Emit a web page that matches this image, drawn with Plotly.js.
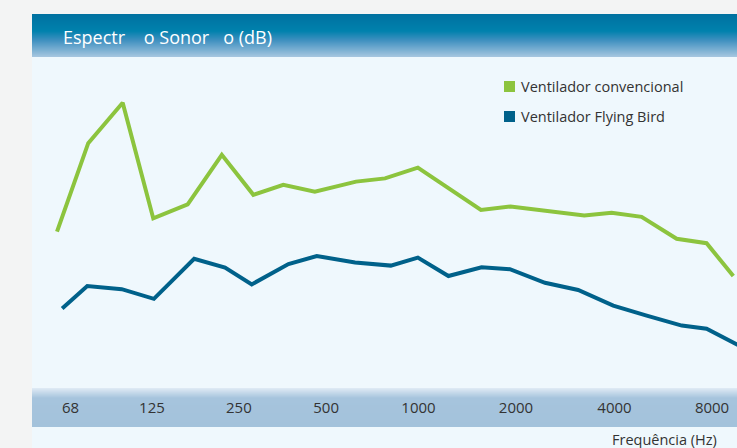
<!DOCTYPE html>
<html>
<head>
<meta charset="utf-8">
<script src="https://cdn.plot.ly/plotly-3.0.1.min.js"></script>
<style>
html,body{margin:0;padding:0;background:#f3f4f4;}
#chart{width:737px;height:448px;}
</style>
</head>
<body>
<div id="chart"></div>
<script>
// ---- data (x = position along the 1/3-octave band scale, y = sound level in dB) ----
var seriesNames = ["Ventilador convencional", "Ventilador Flying Bird"];
var convX = [0, 0.97, 2.04, 2.99, 4.06, 5.12, 6.10, 7.03, 8.01, 9.29, 10.19, 11.21, 13.17, 14.09, 16.38, 17.23, 18.16, 19.25, 20.18, 21.01];
var convY = [47.1, 69.2, 79.3, 50.4, 53.9, 66.3, 56.3, 58.8, 57.1, 59.6, 60.4, 63.1, 52.5, 53.4, 51.1, 51.8, 50.8, 45.3, 44.2, 36.0];
var birdX = [0.16, 0.94, 2.01, 3.01, 4.26, 5.22, 6.05, 7.19, 8.07, 9.26, 10.37, 11.21, 12.16, 13.19, 14.07, 15.16, 16.19, 17.28, 18.32, 19.41, 20.18, 21.22];
var birdY = [27.9, 33.5, 32.7, 30.3, 40.3, 38.1, 33.9, 39.0, 41.0, 39.4, 38.6, 40.6, 36.0, 38.2, 37.7, 34.3, 32.5, 28.6, 26.1, 23.6, 22.8, 18.5];
var tickLabels = ["68", "125", "250", "500", "1000", "2000", "4000", "8000"];
var tickPos = [0.42, 2.95, 5.65, 8.36, 11.23, 14.26, 17.32, 20.35];
var titleText = "Espectr\u00a0\u00a0\u00a0\u00a0o Sonor\u00a0\u00a0\u00a0o (dB)";
var xTitleText = "Frequência (Hz)";

// ---- styles ----
var green = "#8cc43e";
var blue = "#00618a";
var font = "'Open Sans', 'Noto Sans', sans-serif";

// plot area in pixels: x 32..737, y 57..388
function xp(px){ return (px - 32) / 705; }
function yp(py){ return (388 - py) / 331; }
function hex(c){ return [parseInt(c.substr(1,2),16), parseInt(c.substr(3,2),16), parseInt(c.substr(5,2),16)]; }
function mix(a, b, t){
  var A = hex(a), B = hex(b);
  return "rgb(" + A.map(function(v,i){ return Math.round(v + (B[i]-v)*t); }).join(",") + ")";
}
function gradColor(stops, py){
  for (var i = 0; i < stops.length - 1; i++){
    if (py >= stops[i][0] && py <= stops[i+1][0]){
      var t = (py - stops[i][0]) / (stops[i+1][0] - stops[i][0]);
      return mix(stops[i][1], stops[i+1][1], t);
    }
  }
  return stops[stops.length-1][1];
}

var shapes = [];
// panel background
shapes.push({type:"rect", xref:"paper", yref:"paper", x0:xp(32), x1:xp(737), y0:yp(448), y1:yp(14),
  fillcolor:"#eff8fd", line:{width:0}, layer:"below"});
// header gradient
var headStops = [[14,"#0070a0"],[31,"#0081ad"],[40,"#3d8fbf"],[57,"#a7c7e0"]];
for (var py = 14; py < 57; py++){
  shapes.push({type:"rect", xref:"paper", yref:"paper", x0:xp(32), x1:xp(737), y0:yp(py+1), y1:yp(py),
    fillcolor:gradColor(headStops, py+0.5), line:{width:0}, layer:"below"});
}
// axis band gradient
var bandStops = [[388,"#e0ebf5"],[398,"#a6c4dd"],[427,"#a3c2db"]];
for (var py2 = 388; py2 < 427; py2++){
  shapes.push({type:"rect", xref:"paper", yref:"paper", x0:xp(32), x1:xp(737), y0:yp(py2+1), y1:yp(py2),
    fillcolor:gradColor(bandStops, py2+0.5), line:{width:0}, layer:"below"});
}
// legend squares
shapes.push({type:"rect", xref:"paper", yref:"paper", x0:xp(504), x1:xp(515), y0:yp(92), y1:yp(81),
  fillcolor:green, line:{width:0}});
shapes.push({type:"rect", xref:"paper", yref:"paper", x0:xp(504), x1:xp(515), y0:yp(122), y1:yp(111),
  fillcolor:blue, line:{width:0}});

var annotations = [
  {text:titleText, xref:"paper", yref:"paper", x:xp(61), y:yp(37), xanchor:"left", yanchor:"middle",
   showarrow:false, font:{family:font, size:18, color:"#ffffff"}},
  {text:seriesNames[0], xref:"paper", yref:"paper", x:xp(519), y:yp(86.5), xanchor:"left", yanchor:"middle",
   showarrow:false, font:{family:font, size:14.5, color:"#333333"}},
  {text:seriesNames[1], xref:"paper", yref:"paper", x:xp(519), y:yp(116.5), xanchor:"left", yanchor:"middle",
   showarrow:false, font:{family:font, size:14.5, color:"#333333"}},
  {text:xTitleText, xref:"paper", yref:"paper", x:xp(719), y:yp(439), xanchor:"right", yanchor:"middle",
   showarrow:false, font:{family:font, size:14.5, color:"#333333"}}
];

var traces = [
  {x:convX, y:convY, name:seriesNames[0], type:"scatter", mode:"lines", line:{color:green, width:4}, showlegend:false},
  {x:birdX, y:birdY, name:seriesNames[1], type:"scatter", mode:"lines", line:{color:blue, width:4}, showlegend:false}
];

var layout = {
  width:737, height:448,
  margin:{l:32, r:0, t:57, b:60, pad:0},
  paper_bgcolor:"#f3f4f4",
  plot_bgcolor:"rgba(0,0,0,0)",
  showlegend:false,
  xaxis:{range:[-0.777, 21.125], showgrid:false, zeroline:false, showline:false,
    tickmode:"array", tickvals:tickPos, ticktext:tickLabels, ticks:"", ticklabelstandoff:9,
    tickfont:{family:font, size:15, color:"#333333"}, fixedrange:true},
  yaxis:{range:[8, 90.75], showgrid:false, zeroline:false, showline:false, showticklabels:false, ticks:"", fixedrange:true},
  shapes:shapes,
  annotations:annotations
};

Plotly.newPlot("chart", traces, layout, {displayModeBar:false, staticPlot:true});
</script>
</body>
</html>
